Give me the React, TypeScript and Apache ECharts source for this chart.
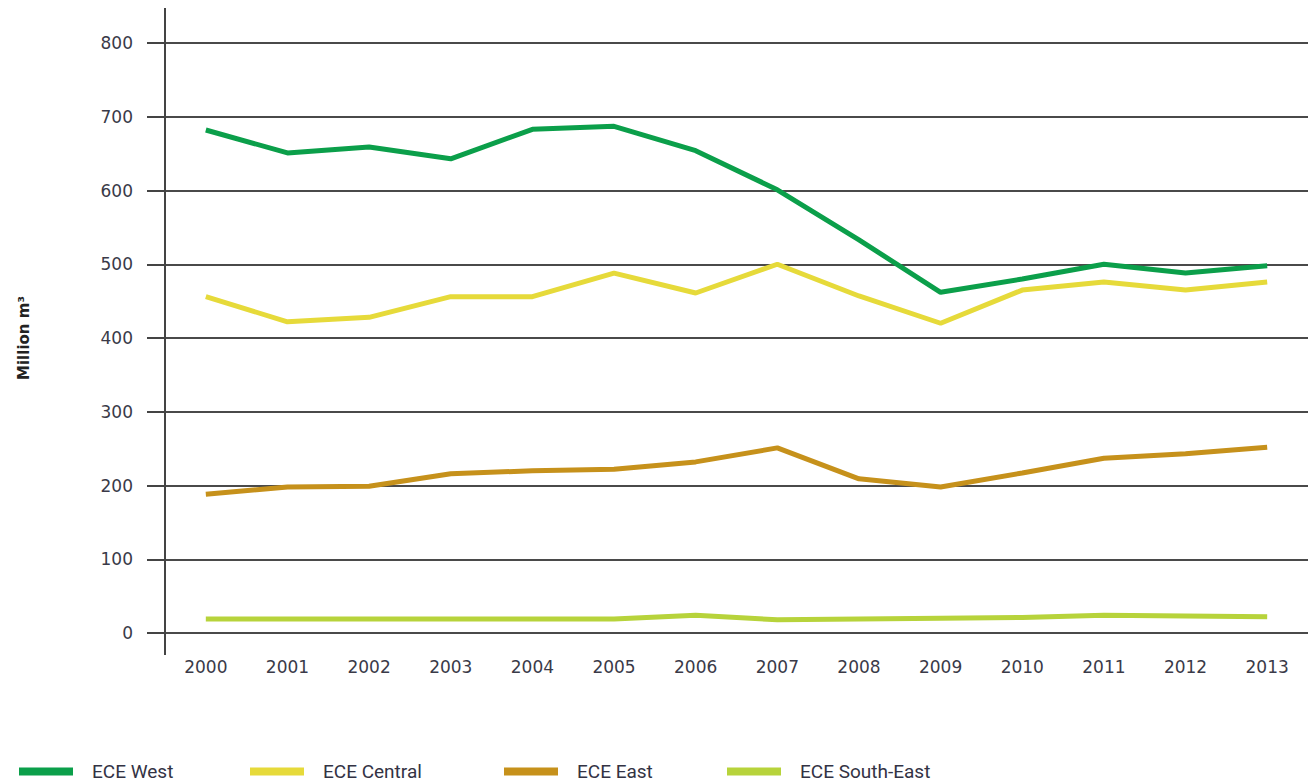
import React, { useEffect, useRef } from "react";
import * as echarts from "echarts";

const years = ["2000","2001","2002","2003","2004","2005","2006","2007","2008","2009","2010","2011","2012","2013"];
const ecwWest = [682, 651, 659, 643, 683, 687, 654, 601, 533, 462, 480, 500, 488, 498];
const eceCentral = [456, 422, 428, 456, 456, 488, 461, 500, 457, 420, 465, 476, 465, 476];
const eceEast = [188, 198, 199, 216, 220, 222, 232, 251, 209, 198, 217, 237, 243, 252];
const eceSouthEast = [19, 19, 19, 19, 19, 19, 24, 18, 19, 20, 21, 24, 23, 22];
const seriesNames = ["ECE West", "ECE Central", "ECE East", "ECE South-East"];
const colors = ["#0b9f4a", "#e6da3a", "#c6911b", "#b7d33b"];
const legendLefts = [19, 250, 504, 727];

export default function App() {
  const ref = useRef<HTMLDivElement>(null);
  useEffect(() => {
    const chart = echarts.init(ref.current!, null, { renderer: "svg" });
    const data = [ecwWest, eceCentral, eceEast, eceSouthEast];
    const font = "DejaVu Sans";
    chart.setOption({
      animation: false,
      grid: { left: 165, right: 0, top: 43, bottom: 151 },
      legend: seriesNames.map((n, i) => ({
        data: [n],
        left: legendLefts[i],
        top: 762,
        padding: 0,
        icon: "rect",
        itemWidth: 54,
        itemHeight: 8,
        itemGap: 0,
        textStyle: { fontFamily: "Roboto", fontSize: 19, color: "#333344", padding: [0, 0, 0, 14] },
      })),
      xAxis: {
        type: "category",
        data: years,
        boundaryGap: true,
        axisLine: { show: false },
        axisTick: { show: false },
        axisLabel: { margin: 25, fontFamily: font, fontSize: 17, color: "#3a3a48" },
        splitLine: { show: false },
      },
      yAxis: {
        type: "value",
        min: 0,
        max: 800,
        interval: 100,
        name: "Million m³",
        nameLocation: "middle",
        nameGap: 134,
        nameTextStyle: { fontFamily: font, fontSize: 15, fontWeight: "bold", color: "#222" },
        axisLine: { show: false },
        axisTick: { show: true, length: 18, lineStyle: { color: "#444", width: 2 } },
        axisLabel: { margin: 32, fontFamily: font, fontSize: 17, color: "#3a3a48" },
        splitLine: { show: true, lineStyle: { color: "#4a4a4a", width: 2 } },
      },
      graphic: [
        { type: "line", shape: { x1: 165, y1: 8, x2: 165, y2: 655 }, style: { stroke: "#444", lineWidth: 2 }, z: 10 },
      ],
      series: seriesNames.map((n, i) => ({
        name: n,
        type: "line",
        data: data[i],
        symbol: "none",
        lineStyle: { width: 5, color: colors[i] },
        itemStyle: { color: colors[i] },
      })),
    });
    return () => chart.dispose();
  }, []);
  return <div ref={ref} style={{ position: "absolute", left: 0, top: 0, width: 1308, height: 784 }} />;
}
